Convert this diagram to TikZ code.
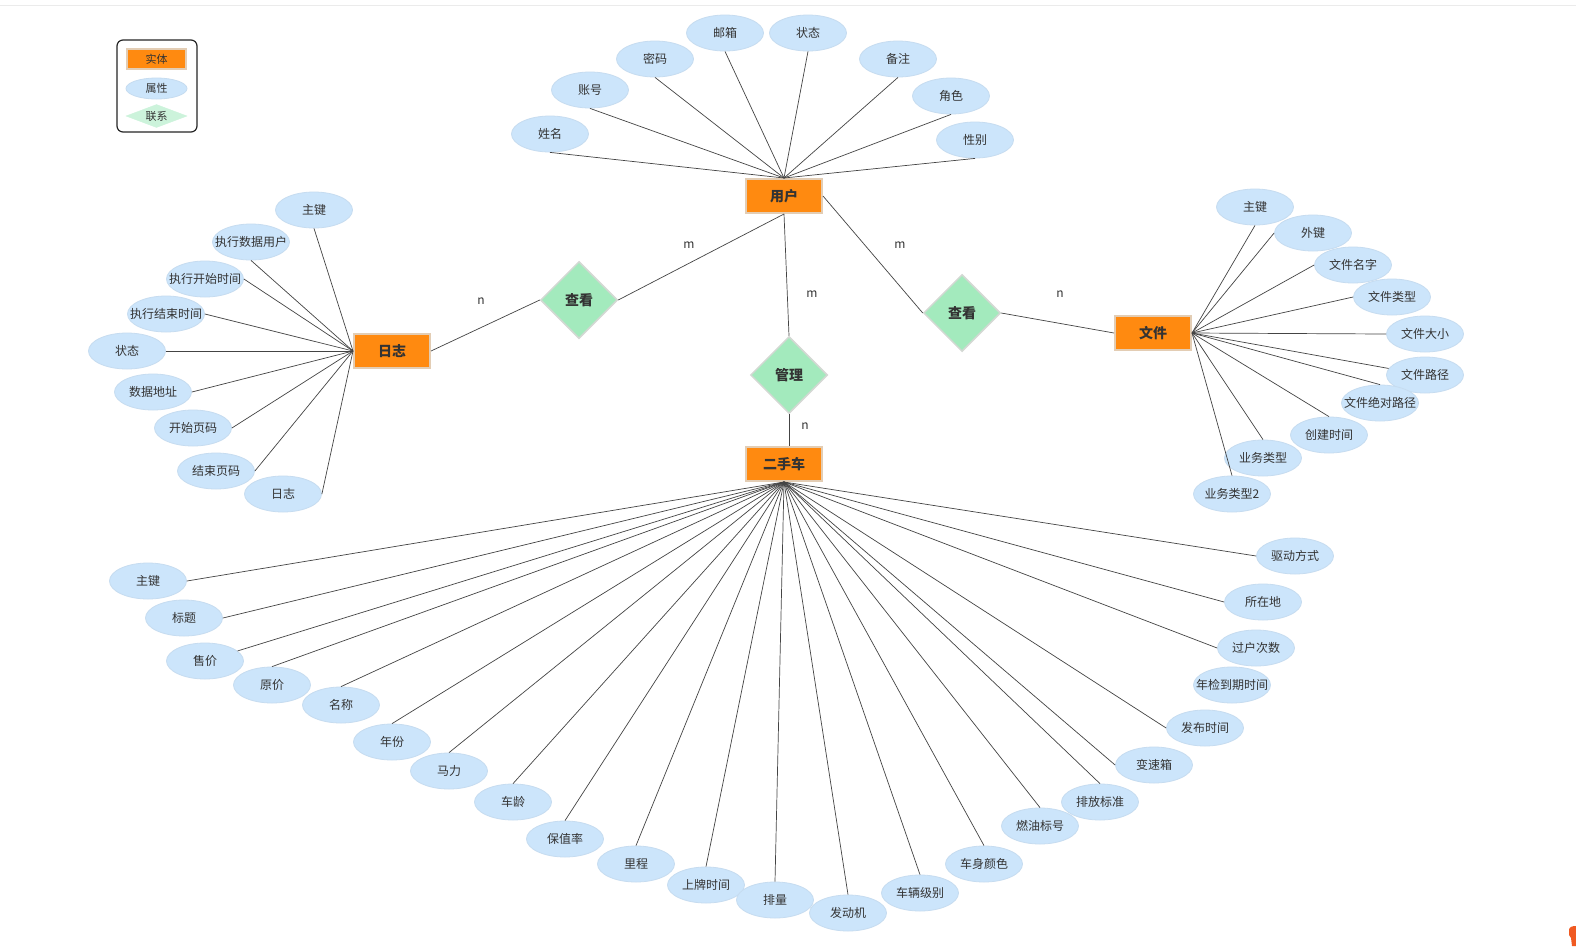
\documentclass[tikz,border=0pt]{standalone}
\usepackage{fontspec}
\setmainfont{Noto Sans CJK SC}
\usetikzlibrary{shapes.geometric}
\definecolor{entfill}{HTML}{FF8A10}
\definecolor{entborder}{HTML}{E3CDB4}
\definecolor{attrfill}{HTML}{CCE5FB}
\definecolor{attrborder}{HTML}{C6DCF0}
\definecolor{relfill}{HTML}{A3EABD}
\definecolor{relborder}{HTML}{D3D8D3}
\definecolor{txt}{HTML}{333333}
\definecolor{conn}{HTML}{444444}
\definecolor{logo}{HTML}{F05A22}
\newcommand{\ctext}[1]{\makebox[0pt][c]{#1}}
\tikzset{
  ent/.style={rectangle, fill=entfill, draw=entborder, line width=2pt, minimum width=76pt, minimum height=34pt, inner sep=0pt, text=txt, font=\fontsize{14}{16}\selectfont\bfseries},
  attr/.style={ellipse, fill=attrfill, draw=attrborder, line width=0.8pt, minimum width=77pt, minimum height=36pt, inner sep=0pt, text=txt, font=\fontsize{12}{14}\selectfont},
  rel/.style={diamond, fill=relfill, draw=relborder, line width=1.5pt, minimum width=77pt, minimum height=77pt, inner sep=0pt, text=txt, font=\fontsize{14}{16}\selectfont\bfseries},
  card/.style={text=txt, inner sep=0pt, font=\fontsize{12}{14}\selectfont},
  link/.style={draw=conn, line width=0.7pt},
  legendbox/.style={draw=black!85, line width=1.2pt, rounded corners=6pt},
}
\begin{document}
\begin{tikzpicture}[x=1pt,y=-1pt]
\useasboundingbox (0,0) rectangle (1576,946);
\fill[white] (0,0) rectangle (1576,946);
\draw[black!8, line width=0.8pt] (0,5) -- (1576,5);

% legend
\draw[legendbox] (117,40) rectangle (197,132);
\node[rectangle, fill=entfill, draw=entborder, line width=1.5pt, minimum width=59pt, minimum height=20pt, inner sep=0pt, text=txt, font=\fontsize{11}{13}\selectfont] (lgent) at (156.5,59) {实体};
\node[ellipse, fill=attrfill, draw=attrborder, line width=0.8pt, minimum width=61pt, minimum height=21pt, inner sep=0pt, text=txt, font=\fontsize{11}{13}\selectfont] (lgattr) at (156.5,88.5) {\ctext{属性}};
\node[diamond, aspect=2.7, fill=relfill!55, draw=relfill!55, minimum width=61pt, minimum height=23pt, inner sep=0pt, text=txt, font=\fontsize{11}{13}\selectfont] (lgrel) at (156.5,116) {联系};

% entities
\node[ent] (user) at (784,196) {用户};
\node[ent] (car) at (784,464) {二手车};
\node[ent] (log) at (392,351) {日志};
\node[ent] (file) at (1153,333) {文件};

% relationships
\node[rel] (r1) at (579,300) {查看};
\node[rel] (r2) at (789,375) {管理};
\node[rel] (r3) at (962,313) {查看};

\draw[link] (user.south) -- (r1.east);
\draw[link] (r1.west) -- (log.east);
\draw[link] (user.south) -- (r2.north);
\draw[link] (r2.south) -- (r2.south |- car.north);
\draw[link] (user.east) -- (r3.west);
\draw[link] (r3.east) -- (file.west);

\node[card] (c1) at (689,245) {m};
\node[card] (c2) at (900,245) {m};
\node[card] (c3) at (812,294) {m};
\node[card] (c4) at (481,301) {n};
\node[card] (c5) at (1060,294) {n};
\node[card] (c6) at (805,426) {n};

% user attributes
\node[attr] (u1) at (550,134) {\ctext{姓名}};
\node[attr] (u2) at (590,90) {\ctext{账号}};
\node[attr] (u3) at (655,59) {\ctext{密码}};
\node[attr] (u4) at (725,33) {\ctext{邮箱}};
\node[attr] (u5) at (808,33) {\ctext{状态}};
\node[attr] (u6) at (898,59) {\ctext{备注}};
\node[attr] (u7) at (951,96) {\ctext{角色}};
\node[attr] (u8) at (975,140) {\ctext{性别}};
\foreach \a in {u1,u2,u3,u4,u5,u6,u7,u8}
  \draw[link] (\a.south) -- (user.north);

% log attributes
\node[attr] (l1) at (314,210) {\ctext{主键}};
\node[attr] (l2) at (251,242) {\ctext{执行数据用户}};
\node[attr] (l3) at (205,279) {\ctext{执行开始时间}};
\node[attr] (l4) at (166,314) {\ctext{执行结束时间}};
\node[attr] (l5) at (127,351) {\ctext{状态}};
\node[attr] (l6) at (153,392) {\ctext{数据地址}};
\node[attr] (l7) at (193,428) {\ctext{开始页码}};
\node[attr] (l8) at (216,471) {\ctext{结束页码}};
\node[attr] (l9) at (283,494) {\ctext{日志}};
\draw[link] (l1.south) -- (log.west);
\draw[link] (l2.south) -- (log.west);
\foreach \a in {l3,l4,l5,l6,l7,l8,l9}
  \draw[link] (\a.east) -- (log.west);

% file attributes
\node[attr] (f1) at (1255,207) {\ctext{主键}};
\node[attr] (f2) at (1313,233) {\ctext{外键}};
\node[attr] (f3) at (1353,265) {\ctext{文件名字}};
\node[attr] (f4) at (1392,297) {\ctext{文件类型}};
\node[attr] (f5) at (1425,334) {\ctext{文件大小}};
\node[attr] (f6) at (1425,375) {\ctext{文件路径}};
\node[attr] (f7) at (1380,403) {\ctext{文件绝对路径}};
\node[attr] (f8) at (1329,435) {\ctext{创建时间}};
\node[attr] (f9) at (1263,458) {\ctext{业务类型}};
\node[attr] (f10) at (1232,494) {\ctext{业务类型2}};
\draw[link] (f1.south) -- (file.east);
\foreach \a in {f2,f3,f4,f5}
  \draw[link] (\a.west) -- (file.east);
\draw[link] (f6) -- (file.east);
\foreach \a in {f7,f8,f9,f10}
  \draw[link] (\a.north) -- (file.east);

% car attributes
\node[attr] (k1) at (148,581) {\ctext{主键}};
\node[attr] (k2) at (184,618) {\ctext{标题}};
\node[attr] (k3) at (205,661) {\ctext{售价}};
\node[attr] (k4) at (272,685) {\ctext{原价}};
\node[attr] (k5) at (341,705) {\ctext{名称}};
\node[attr] (k6) at (392,742) {\ctext{年份}};
\node[attr] (k7) at (449,771) {\ctext{马力}};
\node[attr] (k8) at (513,802) {\ctext{车龄}};
\node[attr] (k9) at (565,839) {\ctext{保值率}};
\node[attr] (k10) at (636,864) {\ctext{里程}};
\node[attr] (k11) at (706,885) {\ctext{上牌时间}};
\node[attr] (k12) at (775,900) {\ctext{排量}};
\node[attr] (k13) at (848,913) {\ctext{发动机}};
\node[attr] (k14) at (920,893) {\ctext{车辆级别}};
\node[attr] (k15) at (984,864) {\ctext{车身颜色}};
\node[attr] (k16) at (1040,826) {\ctext{燃油标号}};
\node[attr] (k17) at (1100,802) {\ctext{排放标准}};
\node[attr] (k18) at (1154,765) {\ctext{变速箱}};
\node[attr] (k19) at (1205,728) {\ctext{发布时间}};
\node[attr] (k20) at (1232,685) {\ctext{年检到期时间}};
\node[attr] (k21) at (1256,648) {\ctext{过户次数}};
\node[attr] (k22) at (1263,602) {\ctext{所在地}};
\node[attr] (k23) at (1295,556) {\ctext{驱动方式}};
\draw[link] (k1.east) -- (car.south);
\draw[link] (k2.east) -- (car.south);
\draw[link] (k3) -- (car.south);
\foreach \a in {k4,k5,k6,k7,k8,k9,k10,k11,k12,k13,k14,k15,k16,k17}
  \draw[link] (\a.north) -- (car.south);
\foreach \a in {k18,k19,k21,k22,k23}
  \draw[link] (\a.west) -- (car.south);

% corner logo fragment
\fill[logo] (1569,930) .. controls (1569,927) and (1572,926) .. (1576,926) -- (1576,946) -- (1572,946) -- (1571,938) -- (1569,935) -- cycle;
\end{tikzpicture}
\end{document}
